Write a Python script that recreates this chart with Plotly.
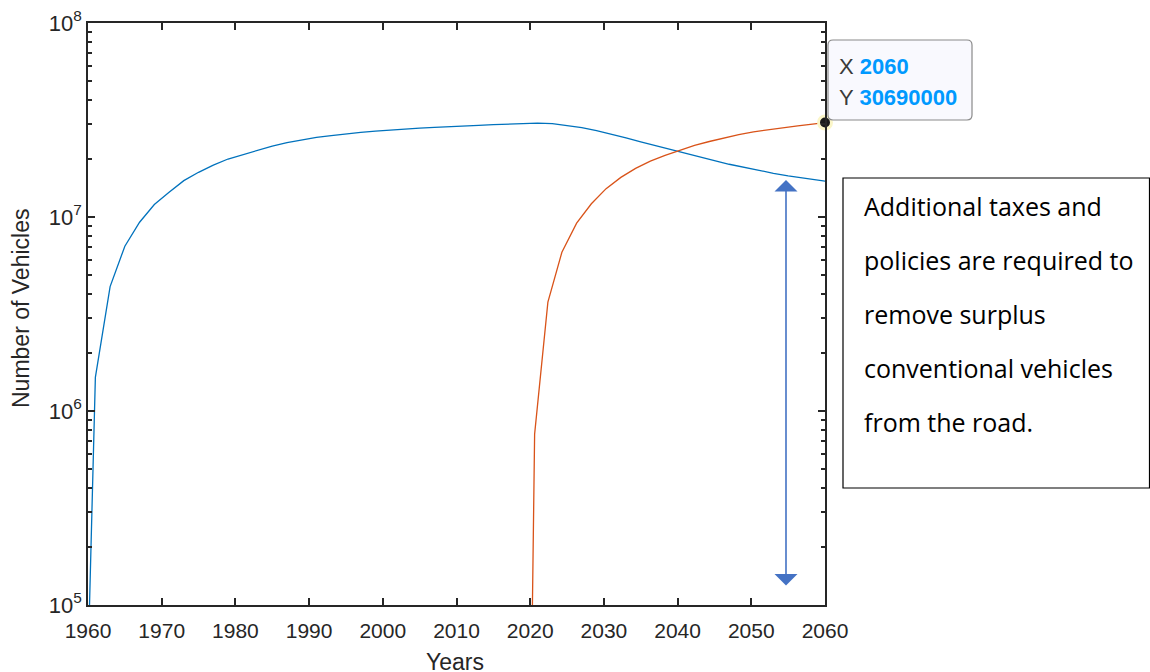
import plotly.graph_objects as go

# ---- data ----
conv_years = [1960, 1961, 1963, 1965, 1967, 1969, 1971, 1973, 1975, 1977, 1979,
              1981, 1983, 1985, 1987, 1989, 1991, 1993, 1995, 1997, 1999,
              2001, 2003, 2005, 2007, 2009, 2011, 2013, 2015, 2017, 2019,
              2021, 2023, 2025, 2027, 2029, 2031, 2033, 2035, 2037, 2039,
              2041, 2043, 2045, 2047, 2049, 2051, 2053, 2055, 2057, 2059, 2060]
conv_vehicles = [5.0e4, 1.49e6, 4.38e6, 7.07e6, 9.4e6, 1.16e7, 1.34e7, 1.54e7, 1.70e7, 1.85e7, 1.99e7,
                 2.10e7, 2.20e7, 2.32e7, 2.42e7, 2.50e7, 2.57e7, 2.63e7, 2.69e7, 2.73e7, 2.77e7,
                 2.81e7, 2.84e7, 2.87e7, 2.90e7, 2.93e7, 2.95e7, 2.97e7, 2.99e7, 3.01e7, 3.03e7,
                 3.05e7, 3.03e7, 2.97e7, 2.89e7, 2.79e7, 2.68e7, 2.56e7, 2.44e7, 2.33e7, 2.23e7,
                 2.13e7, 2.04e7, 1.95e7, 1.87e7, 1.80e7, 1.74e7, 1.68e7, 1.63e7, 1.59e7, 1.55e7, 1.53e7]

ev_years = [2020.2, 2020.6, 2022.4, 2024.3, 2026.3, 2028.3, 2030.3, 2032.3, 2034.3, 2036.3,
            2038.3, 2040.3, 2042.3, 2044.3, 2046.3, 2048.3, 2050.3, 2052.3, 2054.3, 2056.3,
            2058.3, 2060]
ev_vehicles = [5.0e4, 7.6e5, 3.64e6, 6.58e6, 9.3e6, 1.17e7, 1.40e7, 1.60e7, 1.78e7, 1.94e7,
               2.08e7, 2.21e7, 2.34e7, 2.45e7, 2.56e7, 2.66e7, 2.75e7, 2.82e7, 2.89e7, 2.95e7,
               3.01e7, 3.069e7]

x_ticks = [1960, 1970, 1980, 1990, 2000, 2010, 2020, 2030, 2040, 2050, 2060]
y_decades = [5, 6, 7, 8]

note_lines = ["Additional taxes and", "policies are required to", "remove surplus",
              "conventional vehicles", "from the road."]

# ---- figure ----
AX = "#262626"
FONT = "Liberation Sans, Arial, sans-serif"
L, R, T, B = 88, 825, 23, 605  # plot area in pixels


def px_x(p):
    return (p - L) / float(R - L)


def px_y(p):
    return (B - p) / float(B - T)


fig = go.Figure()
fig.add_trace(go.Scatter(x=conv_years, y=conv_vehicles, mode="lines",
                         line=dict(color="#0072BD", width=1.3), showlegend=False))
fig.add_trace(go.Scatter(x=ev_years, y=ev_vehicles, mode="lines",
                         line=dict(color="#D95319", width=1.3), showlegend=False))

# datatip marker
tip_x, tip_y = ev_years[-1], ev_vehicles[-1]
fig.add_trace(go.Scatter(x=[tip_x], y=[tip_y], mode="markers", cliponaxis=False,
                         marker=dict(size=13, color="#1a1a1a",
                                     line=dict(color="#fbf6c8", width=3)),
                         showlegend=False))

minor_vals = [k * 10 ** e for e in y_decades[:-1] for k in range(2, 10)]

fig.update_layout(
    template="none",
    width=1150, height=672,
    margin=dict(l=L, r=1150 - R, t=T, b=672 - B, pad=0, autoexpand=False),
    paper_bgcolor="white", plot_bgcolor="white",
    font=dict(family=FONT, color=AX, size=21),
    xaxis=dict(range=[1960, 2060], tickvals=x_ticks, ticks="inside", ticklen=7,
               tickwidth=1.5, tickcolor=AX, showline=True, linecolor=AX, linewidth=1.5,
               mirror="ticks", showgrid=False, zeroline=False, automargin=False,
               ticklabelstandoff=6,
               tickfont=dict(family=FONT, size=21, color=AX)),
    yaxis=dict(type="log", range=[5, 8], tickvals=[10 ** d for d in y_decades],
               ticktext=[f"10<sup>{d}</sup>" for d in y_decades],
               ticks="inside", ticklen=7, tickwidth=1.5, tickcolor=AX,
               showline=True, linecolor=AX, linewidth=1.5, mirror="ticks",
               showgrid=False, zeroline=False, automargin=False,
               tickfont=dict(family=FONT, size=22, color=AX),
               minor=dict(tickvals=minor_vals, ticks="inside", ticklen=4,
                          tickwidth=1.5, tickcolor=AX, showgrid=False)),
)

# axis titles
fig.add_annotation(text="Years", xref="paper", yref="paper", x=px_x(455), y=px_y(662),
                   showarrow=False, font=dict(family=FONT, size=23, color=AX),
                   xanchor="center", yanchor="middle")
fig.add_annotation(text="Number of Vehicles", xref="paper", yref="paper",
                   x=px_x(21), y=px_y(309),
                   showarrow=False, textangle=-90, font=dict(family=FONT, size=23, color=AX),
                   xanchor="center", yanchor="middle")

# datatip box (rounded rectangle)
x0, x1, y0, y1, r = 828, 972, 40, 120, 5
pts = [("M", x0 + r, y0), ("L", x1 - r, y0), ("Q", x1, y0), ("", x1, y0 + r),
       ("L", x1, y1 - r), ("Q", x1, y1), ("", x1 - r, y1), ("L", x0 + r, y1),
       ("Q", x0, y1), ("", x0, y1 - r), ("L", x0, y0 + r), ("Q", x0, y0), ("", x0 + r, y0)]
path = " ".join(f"{c} {px_x(a):.5f},{px_y(b):.5f}".strip() for c, a, b in pts) + " Z"
fig.add_shape(type="path", xref="paper", yref="paper", path=path,
              fillcolor="#f9f9fe", line=dict(color="#8a8a8a", width=1.2))

fig.add_annotation(text=f'X <span style="color:#0099ff"><b>{tip_x}</b></span>',
                   xref="paper", yref="paper", x=px_x(837), y=px_y(67),
                   xanchor="left", yanchor="middle", showarrow=False,
                   font=dict(family=FONT, size=22, color="#3a3a3a"))
fig.add_annotation(text=f'Y <span style="color:#0099ff"><b>{int(round(tip_y))}</b></span>',
                   xref="paper", yref="paper", x=px_x(837), y=px_y(97),
                   xanchor="left", yanchor="middle", showarrow=False,
                   font=dict(family=FONT, size=22, color="#3a3a3a"))

# double-headed arrow
fig.add_annotation(xref="paper", yref="paper", x=px_x(786), y=px_y(180),
                   ax=0, ay=407, axref="pixel", ayref="pixel", text="",
                   showarrow=True, arrowhead=1, arrowside="end+start",
                   arrowsize=2.4, arrowwidth=1.6, arrowcolor="#4472C4")

# note box
fig.add_shape(type="rect", xref="paper", yref="paper",
              x0=px_x(843), x1=px_x(1149.5), y0=px_y(488), y1=px_y(178),
              line=dict(color="black", width=1.2), fillcolor="rgba(0,0,0,0)")
line_y = [206, 260, 314, 368, 422]
for txt, yy in zip(note_lines, line_y):
    fig.add_annotation(text=txt, xref="paper", yref="paper", x=px_x(862), y=px_y(yy),
                       xanchor="left", yanchor="middle", showarrow=False,
                       font=dict(family="Open Sans, Lato, sans-serif", size=25,
                                 color="black"))

fig.write_html("out.html", config={"displayModeBar": False},
               post_script="document.body.style.margin='0';")
